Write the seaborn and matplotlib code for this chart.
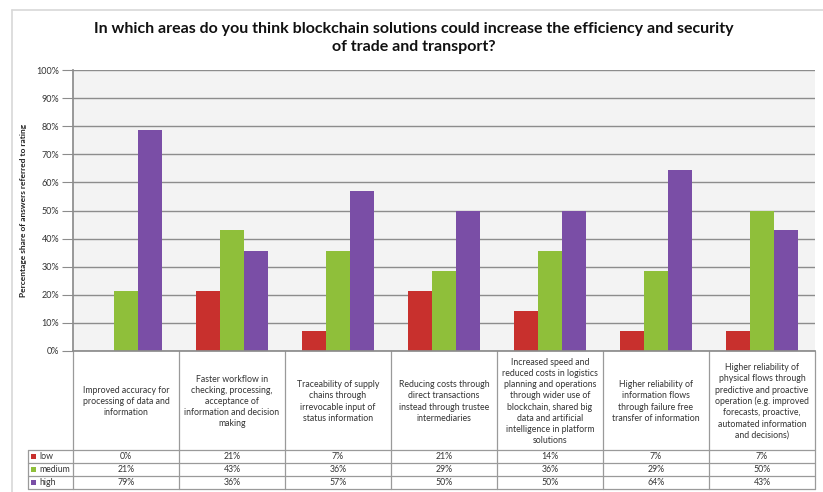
import matplotlib
matplotlib.use("Agg")
import matplotlib.pyplot as plt
import seaborn as sns
import pandas as pd
from matplotlib.patches import Rectangle
from matplotlib.lines import Line2D

categories = [
    "Improved accuracy for\nprocessing of data and\ninformation",
    "Faster workflow in\nchecking, processing,\nacceptance of\ninformation and decision\nmaking",
    "Traceability of supply\nchains through\nirrevocable input of\nstatus information",
    "Reducing costs through\ndirect transactions\ninstead through trustee\nintermediaries",
    "Increased speed and\nreduced costs in logistics\nplanning and operations\nthrough wider use of\nblockchain, shared big\ndata and artificial\nintelligence in platform\nsolutions",
    "Higher reliability of\ninformation flows\nthrough failure free\ntransfer of information",
    "Higher reliability of\nphysical flows through\npredictive and proactive\noperation (e.g. improved\nforecasts, proactive,\nautomated information\nand decisions)",
]
series = ["low", "medium", "high"]
low = [0.0, 21.4, 7.1, 21.4, 14.3, 7.1, 7.1]
medium = [21.4, 42.9, 35.7, 28.6, 35.7, 28.6, 50.0]
high = [78.6, 35.7, 57.1, 50.0, 50.0, 64.3, 42.9]
colors = ["#c8302d", "#8fbf3a", "#7a4ea6"]
yticks = [0, 10, 20, 30, 40, 50, 60, 70, 80, 90, 100]

idx = list(range(len(categories)))
df = pd.DataFrame({
    "cat": idx * 3,
    "series": ["low"] * 7 + ["medium"] * 7 + ["high"] * 7,
    "value": low + medium + high,
})

sns.set_theme(style="white")
plt.rcParams["font.family"] = ["Lato", "DejaVu Sans"]

W, H = 823, 492
fig = plt.figure(figsize=(W / 100, H / 100), dpi=100)
fig.patch.set_facecolor("white")

ax_l, ax_r, ax_t, ax_b = 73, 815, 70, 351
ax = fig.add_axes([ax_l / W, 1 - ax_b / H, (ax_r - ax_l) / W, (ax_b - ax_t) / H])
ax.set_facecolor("#f3f3f3")

sns.barplot(data=df, x="cat", y="value", hue="series", hue_order=series,
            palette=colors, width=0.67, ax=ax, legend=False, saturation=1,
            edgecolor="none")

ax.set_xlim(-0.5, len(categories) - 0.5)
ax.set_ylim(0, 100)
ax.set_yticks(yticks)
ax.set_yticklabels([f"{t}%" for t in yticks], fontsize=6.5, color="#333333")
ax.yaxis.grid(True, color="#8c8c8c", linewidth=1.0)
ax.set_axisbelow(True)
ax.tick_params(axis="y", length=8, width=0.8, color="#8c8c8c", pad=2, left=True)
ax.set_xticks([])
ax.set_xlabel("")
ax.set_ylabel("Percentage share of answers referred to rating", fontsize=6,
              fontweight="bold", color="#222222", labelpad=7)
for s in ["top", "right"]:
    ax.spines[s].set_visible(False)
ax.spines["left"].set_color("#8c8c8c")
ax.spines["bottom"].set_color("#8c8c8c")

# table beneath the axes
ah = ax_b - ax_t
def yax(py):
    return -(py - ax_b) / ah

tr = ax.get_xaxis_transform()
row_cat_bottom = 450
row_h = 13
bottom = row_cat_bottom + 3 * row_h
lc = "#9a9a9a"
for i in range(len(categories) + 1):
    x = i - 0.5
    ax.add_line(Line2D([x, x], [yax(ax_b), yax(bottom)],
                       transform=tr, color=lc, lw=0.9, clip_on=False))

fig_x0 = 28 / W
ax_x1 = ax_r / W
for k in range(4):
    py = row_cat_bottom + k * row_h
    fig.add_artist(Line2D([fig_x0, ax_x1], [1 - py / H, 1 - py / H], color=lc, lw=0.9))
fig.add_artist(Line2D([fig_x0, fig_x0], [1 - row_cat_bottom / H, 1 - bottom / H], color=lc, lw=0.9))

# category labels
for i, c in enumerate(categories):
    ax.text(i, yax((ax_b + row_cat_bottom) / 2 + 1), c, transform=tr, ha="center", va="center",
            fontsize=6.3, color="#333333", linespacing=1.3, clip_on=False)

# value rows
for k, (name, vals, col) in enumerate(zip(series, [low, medium, high], colors)):
    cy = row_cat_bottom + k * row_h + row_h / 2
    for i, v in enumerate(vals):
        ax.text(i, yax(cy), f"{round(v):d}%", transform=tr, ha="center", va="center",
                fontsize=6.3, color="#333333", clip_on=False)
    fig.add_artist(Rectangle((31 / W, 1 - (cy + 2.5) / H), 5 / W, 5 / H,
                             facecolor=col, edgecolor="none"))
    fig.text(39 / W, 1 - cy / H, name, ha="left", va="center", fontsize=6.3, color="#333333")

# outer frame
fig.add_artist(Line2D([12 / W, 1.0], [1 - 10 / H, 1 - 10 / H], color="#d8d8d8", lw=1.2))
fig.add_artist(Line2D([12 / W, 12 / W], [1 - 10 / H, 0], color="#d8d8d8", lw=1.2))

fig.text(414 / W, 1 - 38 / H,
         "In which areas do you think blockchain solutions could increase the efficiency and security\nof trade and transport?",
         ha="center", va="center", fontsize=11.5, fontweight="bold", color="#111111",
         linespacing=1.45)

fig.savefig("out.png", dpi=100)
